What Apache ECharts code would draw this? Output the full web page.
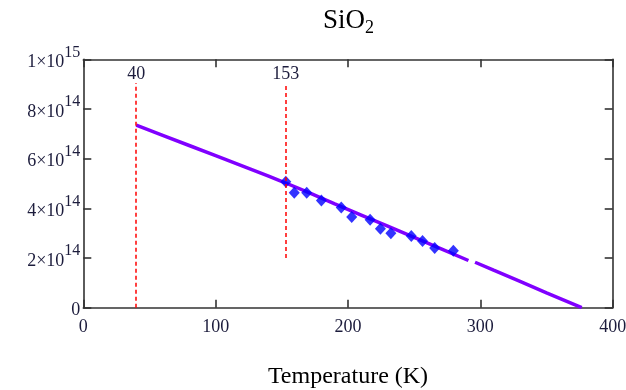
<!DOCTYPE html>
<html>
<head>
<meta charset="utf-8">
<script src="https://cdn.jsdelivr.net/npm/echarts@6/dist/echarts.min.js"></script>
<style>
  html, body { margin: 0; padding: 0; background: #fff; }
  #chart { width: 626px; height: 390px; }
</style>
</head>
<body>
<div id="chart"></div>
<script>
// Measured data points (temperature in K, value)
const measT = [153, 159.4, 168.8, 179.9, 194.9, 202.8, 216.7, 224.5, 232.4, 247.8, 256.3, 265.5, 279.6];
const measV = [5.07e14, 4.63e14, 4.63e14, 4.32e14, 4.03e14, 3.65e14, 3.54e14, 3.18e14, 3.0e14, 2.89e14, 2.69e14, 2.40e14, 2.29e14];

// Fitted curve (null leaves the small break near 293 K)
const fitT = [40, 60, 80, 100, 120, 140, 153, 170, 190, 210, 230, 250, 270, 291, 293, 296, 310, 330, 350, 376.6];
const fitV = [7.35e14, 6.94e14, 6.53e14, 6.12e14, 5.71e14, 5.30e14, 5.02e14, 4.64e14, 4.18e14, 3.73e14,
              3.28e14, 2.83e14, 2.38e14, 1.90e14, null, 1.83e14, 1.51e14, 1.06e14, 0.60e14, 0];

// Marker temperatures with their vertical extents
const cutT = [40, 153];
const cutLow = [0, 2e14];
const cutHigh = [9.05e14, 9.05e14];

// Axis ranges
const xMin = 0, xMax = 400, xStep = 100;
const yMin = 0, yMax = 1e15, yStep = 2e14;

const serif = 'Liberation Serif';
const labelColor = '#1c1c3c';
const axisColor = '#333333';

function yLabel(v) {
  if (v === 0) return '{z|0}';
  const exp = Math.floor(Math.log10(v) + 1e-9);
  const mant = Math.round(v / Math.pow(10, exp));
  return '{m|' + mant + '×10}{s|' + exp + '}';
}

const chart = echarts.init(document.getElementById('chart'));

const axisBase = {
  type: 'value',
  axisLine: { show: true, onZero: false, lineStyle: { color: axisColor, width: 1.6 } },
  axisTick: { show: true, inside: true, length: 8, lineStyle: { color: axisColor, width: 1.6 } },
  splitLine: { show: false }
};

chart.setOption({
  animation: false,
  backgroundColor: '#ffffff',
  title: {
    text: '{a|SiO}{b|2}',
    left: 318,
    top: 0,
    textStyle: {
      fontWeight: 'normal',
      rich: {
        a: { fontFamily: serif, fontSize: 27, fontWeight: 'normal', color: '#000' },
        b: { fontFamily: serif, fontSize: 18, fontWeight: 'normal', color: '#000', padding: [14, 0, 0, 0] }
      }
    }
  },
  grid: { left: 83.3, right: 13.3, top: 59.3, bottom: 82.3, containLabel: false, outerBoundsMode: 'none' },
  xAxis: [
    Object.assign({}, axisBase, {
      position: 'bottom', min: xMin, max: xMax, interval: xStep,
      axisLabel: { fontFamily: serif, fontSize: 18, color: labelColor, margin: 11 },
      name: 'Temperature (K)', nameLocation: 'middle', nameGap: 57,
      nameTextStyle: { fontFamily: serif, fontSize: 24, color: '#000' }
    }),
    Object.assign({}, axisBase, {
      position: 'top', min: xMin, max: xMax, interval: xStep,
      axisLabel: { show: false }
    })
  ],
  yAxis: [
    Object.assign({}, axisBase, {
      position: 'left', min: yMin, max: yMax, interval: yStep,
      axisLabel: {
        margin: 3,
        formatter: yLabel,
        fontFamily: serif, fontSize: 18, color: labelColor,
        rich: {
          z: { fontFamily: serif, fontSize: 18, color: labelColor, padding: [5, 0, 0, 0] },
          m: { fontFamily: serif, fontSize: 18, color: labelColor, padding: [6, 0, 0, 0] },
          s: { fontFamily: serif, fontSize: 16, color: labelColor, padding: [0, 0, 14, 0] }
        }
      }
    }),
    Object.assign({}, axisBase, {
      position: 'right', min: yMin, max: yMax, interval: yStep,
      axisLabel: { show: false }
    })
  ],
  series: [
    {
      type: 'line',
      data: fitT.map((t, i) => [t, fitV[i]]),
      showSymbol: false,
      connectNulls: false,
      lineStyle: { color: '#8000ff', width: 3.5 },
      z: 3
    },
    {
      type: 'scatter',
      data: measT.map((t, i) => [t, measV[i]]),
      symbol: 'diamond',
      symbolSize: [11, 12],
      itemStyle: { color: '#0000ff' },
      z: 4
    },
    {
      type: 'line',
      data: [],
      markLine: {
        silent: true,
        symbol: 'none',
        lineStyle: { color: '#ff0000', type: [4, 3], width: 1.5 },
        label: {
          show: true, position: 'end', distance: 0,
          fontFamily: serif, fontSize: 18, color: labelColor,
          formatter: p => String(p.data.t)
        },
        data: cutT.map((t, i) => [
          { coord: [t, cutLow[i]], t: t },
          { coord: [t, cutHigh[i]] }
        ])
      },
      z: 2
    }
  ]
});
</script>
</body>
</html>
